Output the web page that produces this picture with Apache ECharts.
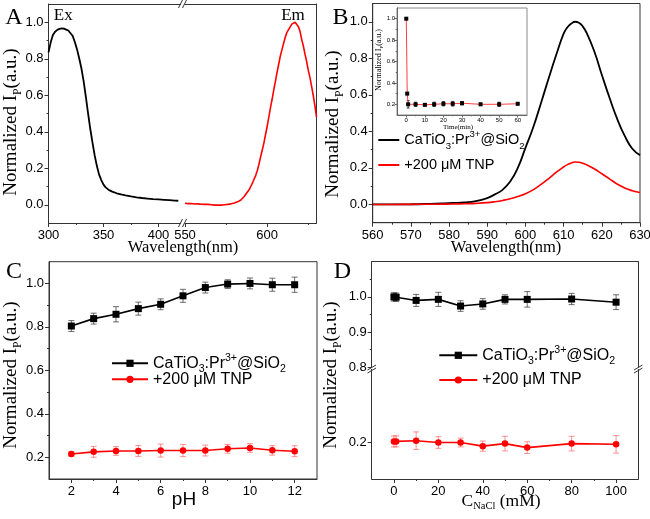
<!DOCTYPE html>
<html><head><meta charset="utf-8">
<script src="https://cdn.jsdelivr.net/npm/echarts@6/dist/echarts.min.js"></script>
<style>html,body{margin:0;padding:0;background:#fff}#c{width:650px;height:519px}</style>
</head><body><div id="c"></div>
<script>
// ---------------- DATA ----------------
// Panel A: excitation (black) and emission (red)
const exWave = [300,302,304,306,308,310,312,314,316,318,320,322,324,326,328,330,332,334,336,338,340,342,344,346,348,350,352,355,358,362,366,370,375,380,385,390,395,400,405,410,415,418];
const exVal  = [0.835,0.89,0.93,0.948,0.958,0.964,0.967,0.965,0.96,0.955,0.94,0.925,0.89,0.85,0.80,0.745,0.675,0.59,0.50,0.415,0.34,0.27,0.212,0.165,0.135,0.11,0.095,0.08,0.072,0.063,0.057,0.052,0.046,0.041,0.037,0.034,0.031,0.029,0.027,0.025,0.023,0.022];
const emWave = [550,552,554,556,558,560,562,564,566,568,570,572,574,576,578,580,581,582,583,584,585,586,587,588,589,590,591,592,593,594,595,596,597,598,599,600,601,602,603,604,605,606,607,608,609,610,611,612,613,614,615,616,617,618,619,620,621,622,623,624,625,626,627,628,629,630];
const emVal  = [0.008,0.006,0.007,0.004,0.005,0.003,0.002,0.002,0.000,-0.002,-0.001,-0.002,0.000,0.002,0.005,0.010,0.012,0.016,0.019,0.026,0.034,0.045,0.055,0.070,0.082,0.100,0.118,0.140,0.160,0.188,0.222,0.262,0.300,0.338,0.385,0.430,0.480,0.532,0.578,0.630,0.676,0.725,0.770,0.815,0.850,0.885,0.918,0.945,0.955,0.975,0.990,0.985,1.000,0.992,0.975,0.950,0.905,0.870,0.825,0.785,0.738,0.698,0.650,0.600,0.545,0.480];
// Panel B: emission spectra
const bWave  = [560,565,570,575,578,581,584,587,590,592,594,596,598,600,602,604,606,608,610,611,612,613,614,615,616,618,620,622,624,626,628,630];
const bBlack = [0.0,0.0005,0.001,0.003,0.005,0.008,0.011,0.018,0.035,0.055,0.08,0.125,0.2,0.31,0.42,0.55,0.685,0.815,0.935,0.97,0.99,1.0,0.995,0.975,0.94,0.84,0.71,0.585,0.47,0.375,0.305,0.27];
const bRed   = [0.0,0.0,0.0005,0.001,0.0015,0.002,0.004,0.006,0.01,0.015,0.022,0.031,0.043,0.058,0.08,0.108,0.14,0.175,0.205,0.218,0.227,0.232,0.231,0.226,0.217,0.195,0.168,0.14,0.112,0.09,0.075,0.065];
// Panel B inset: time response
const insetTime = [0,0.5,1,5,10,15,20,25,30,40,50,60];
const insetVal  = [1.0,0.3,0.2,0.2,0.195,0.2,0.205,0.205,0.21,0.2,0.2,0.205];
const insetErr  = [0.005,0.01,0.035,0.02,0.01,0.02,0.02,0.022,0.015,0.01,0.02,0.01];
// Panel C: pH
const phC       = [2,3,4,5,6,7,8,9,10,11,12];
const cBlack    = [0.804,0.838,0.858,0.884,0.904,0.943,0.981,0.997,1.0,0.994,0.994];
const cBlackErr = [0.025,0.025,0.035,0.03,0.025,0.03,0.025,0.02,0.025,0.03,0.035];
const cRed      = [0.215,0.225,0.229,0.229,0.231,0.231,0.231,0.239,0.243,0.232,0.228];
const cRedErr   = [0.01,0.025,0.02,0.025,0.03,0.028,0.025,0.02,0.02,0.022,0.025];
// Panel D: NaCl concentration
const naclD     = [0,1,10,20,30,40,50,60,80,100];
const dBlack    = [1.0,0.999,0.99,0.993,0.974,0.98,0.993,0.993,0.994,0.985];
const dBlackErr = [0.012,0.012,0.017,0.02,0.015,0.015,0.013,0.022,0.016,0.021];
const dRed      = [0.203,0.203,0.205,0.2,0.2,0.19,0.197,0.186,0.197,0.195];
const dRedErr   = [0.015,0.015,0.024,0.016,0.012,0.014,0.02,0.016,0.02,0.024];
// Tick values
const tickA_xL = [300,350,400],  minA_xL = [325,375];
const tickA_xR = [550,600],      minA_xR = [575,625];
const tickY01  = [0,0.2,0.4,0.6,0.8,1.0], minY01 = [0.1,0.3,0.5,0.7,0.9];
const tickB_x  = [560,570,580,590,600,610,620,630], minB_x = [565,575,585,595,605,615,625];
const tickI_x  = [0,10,20,30,40,50,60], minI_x = [5,15,25,35,45,55];
const tickI_y  = [0.2,0.4,0.6,0.8,1.0], minI_y = [0.3,0.5,0.7,0.9];
const tickC_x  = [2,4,6,8,10,12], minC_x = [3,5,7,9,11];
const tickC_y  = [0.2,0.4,0.6,0.8,1.0], minC_y = [0.3,0.5,0.7,0.9];
const tickD_x  = [0,20,40,60,80,100], minD_x = [10,30,50,70,90];
const tickD_yU = [0.8,0.9,1.0], minD_yU = [0.85,0.95,1.05];
const tickD_yL = [0.2];
const labelBlack = '{b|CaTiO}{sub|3}{b|:Pr}{sup|3+}{b|@SiO}{sub|2}';
const labelRed   = '{b|+200 μM TNP}';

// ---------------- BUILD ----------------
const SANS = 'Liberation Sans', SERIF = 'Liberation Serif';
const FRAME = '#333';
const grid = [], xAxis = [], yAxis = [], series = [], legend = [];
const fmt1 = v => Number(v).toFixed(1);
const fmt0 = v => String(Math.round(v));

function addGrid(o){ grid.push(Object.assign({outerBoundsMode:'none', containLabel:false}, o)); return grid.length-1; }
function addAxis(arr, o){
  const tl = o.tl || 4;
  const main = {
    type:'value', gridIndex:o.g, min:o.min, max:o.max, position:o.pos, scale:false,
    axisLine:{show:true, onZero:false, lineStyle:{color:o.lc||FRAME, width:1}},
    axisTick:o.majors ? {show:true, customValues:o.majors, length:tl, inside:false, lineStyle:{color:o.lc||FRAME}} : {show:false},
    axisLabel:o.majors && o.labels!==false ? {show:true, customValues:o.majors, formatter:o.fmt, fontSize:o.fs||13, fontFamily:SANS, color:'#000', margin:o.margin||5} : {show:false},
    splitLine:{show:false}
  };
  arr.push(main); const idx = arr.length-1;
  if (o.minors) arr.push({type:'value', gridIndex:o.g, min:o.min, max:o.max, position:o.pos,
    axisLine:{show:false, onZero:false}, axisTick:{show:true, customValues:o.minors, length:tl/2, lineStyle:{color:o.lc||FRAME}},
    axisLabel:{show:false}, splitLine:{show:false}});
  return idx;
}
const pairs = (xs, ys) => xs.map((x,i)=>[x, ys[i]]);
const triples = (xs, ys, es) => xs.map((x,i)=>[x, ys[i], es[i]]);
function errSeries(xi, yi, data, color, cap){
  return {type:'custom', xAxisIndex:xi, yAxisIndex:yi, data, silent:true, z:1, clip:false,
    renderItem(params, api){
      const x=api.value(0), y=api.value(1), e=api.value(2);
      const t=api.coord([x,y+e]), b=api.coord([x,y-e]);
      const st={stroke:color, lineWidth:1};
      return {type:'group', children:[
        {type:'line', shape:{x1:t[0],y1:t[1],x2:b[0],y2:b[1]}, style:st},
        {type:'line', shape:{x1:t[0]-cap,y1:t[1],x2:t[0]+cap,y2:t[1]}, style:st},
        {type:'line', shape:{x1:b[0]-cap,y1:b[1],x2:b[0]+cap,y2:b[1]}, style:st}]};
    }};
}
function lineSeries(name, xi, yi, data, color, o){
  return Object.assign({type:'line', name, xAxisIndex:xi, yAxisIndex:yi, data, z:3,
    symbol:'none', lineStyle:{color, width:1.6}, itemStyle:{color}}, o||{});
}
function richLegend(fs){
  const sm = Math.round(fs*0.66*10)/10;
  return {
    b:{fontSize:fs, lineHeight:22, fontFamily:SANS, color:'#000'},
    sub:{fontSize:sm, lineHeight:sm, verticalAlign:'bottom', fontFamily:SANS, color:'#000'},
    sup:{fontSize:sm, lineHeight:sm, verticalAlign:'top', fontFamily:SANS, color:'#000'}
  };
}
const LBL = {B1:labelBlack, B2:labelRed, C1:labelBlack, C2:labelRed, D1:labelBlack, D2:labelRed};
function addLegend(name, left, top, iw, ih, fs, icon){
  const d = icon ? {name, icon} : {name};
  legend.push({left, top, orient:'vertical', padding:0, itemWidth:iw, itemHeight:ih, itemGap:0,
    data:[d], selectedMode:false, formatter:n=>LBL[n],
    textStyle:{fontFamily:SANS, fontSize:fs, color:'#000', lineHeight:22, rich:richLegend(fs)}});
}

// Panel A (broken x axis: two grids)
const gAL = addGrid({left:48.5, top:4, width:132, height:219});
const gAR = addGrid({left:185, top:4, width:131.5, height:219});
const xAL = addAxis(xAxis, {g:gAL, min:300, max:420, pos:'bottom', majors:tickA_xL, minors:minA_xL, fmt:fmt0, margin:6});
addAxis(xAxis, {g:gAL, min:300, max:420, pos:'top'});
const yAL = addAxis(yAxis, {g:gAL, min:-0.1, max:1.1, pos:'left', majors:tickY01, minors:minY01, fmt:fmt1});
const xAR = addAxis(xAxis, {g:gAR, min:550, max:630, pos:'bottom', majors:tickA_xR, minors:minA_xR, fmt:fmt0, margin:6});
addAxis(xAxis, {g:gAR, min:550, max:630, pos:'top'});
const yAR = addAxis(yAxis, {g:gAR, min:-0.1, max:1.1, pos:'right'});
series.push(lineSeries('Ex', xAL, yAL, pairs(exWave, exVal), '#000', {lineStyle:{color:'#000', width:1.8}}));
series.push(lineSeries('Em', xAR, yAR, pairs(emWave, emVal), '#ff0000', {lineStyle:{color:'#ff0000', width:1.6}}));

// Panel B
const gB = addGrid({left:372.7, top:3.5, width:267.3, height:219.2, show:true, borderColor:FRAME, borderWidth:1});
const xB = addAxis(xAxis, {g:gB, min:560, max:630, pos:'bottom', majors:tickB_x, minors:minB_x, fmt:fmt0, margin:6});
const yB = addAxis(yAxis, {g:gB, min:-0.1, max:1.1, pos:'left', majors:tickY01, minors:minY01, fmt:fmt1});
series.push(lineSeries('B1', xB, yB, pairs(bWave, bBlack), '#000', {smooth:true, lineStyle:{color:'#000', width:1.8}}));
series.push(lineSeries('B2', xB, yB, pairs(bWave, bRed), '#ff0000', {smooth:true, lineStyle:{color:'#ff0000', width:1.6}}));
addLegend('B1', 378.3, 129, 21, 2, 14.5, 'rect');
addLegend('B2', 378.3, 154, 21, 2, 14.5, 'rect');

// Inset
const gI = addGrid({left:397, top:8, width:130, height:107, show:true, borderColor:'#888', borderWidth:1});
const xI = addAxis(xAxis, {g:gI, min:-5, max:65, pos:'bottom', majors:tickI_x, minors:minI_x, fmt:fmt0, fs:6, tl:2.5, margin:2.5, lc:'#666'});
const yI = addAxis(yAxis, {g:gI, min:0.1, max:1.1, pos:'left', majors:tickI_y, minors:minI_y, fmt:fmt1, fs:6, tl:2.5, margin:2, lc:'#666'});
series.push(errSeries(xI, yI, triples(insetTime, insetVal, insetErr), 'rgba(0,0,0,0.7)', 1.5));
series.push(lineSeries('inset', xI, yI, pairs(insetTime, insetVal), '#000',
  {symbol:'rect', symbolSize:4, showSymbol:true, lineStyle:{color:'#ff4040', width:1}, itemStyle:{color:'#000'}}));

// Panel C
const gC = addGrid({left:49, top:261.7, width:268, height:217.3, show:true, borderColor:FRAME, borderWidth:1});
const xC = addAxis(xAxis, {g:gC, min:1, max:13, pos:'bottom', majors:tickC_x, minors:minC_x, fmt:fmt0, margin:6});
const yC = addAxis(yAxis, {g:gC, min:0.1, max:1.1, pos:'left', majors:tickC_y, minors:minC_y, fmt:fmt1});
series.push(errSeries(xC, yC, triples(phC, cBlack, cBlackErr), 'rgba(60,60,60,0.75)', 3));
series.push(errSeries(xC, yC, triples(phC, cRed, cRedErr), 'rgba(255,60,60,0.55)', 3));
series.push(lineSeries('C1', xC, yC, pairs(phC, cBlack), '#000', {symbol:'rect', symbolSize:7, showSymbol:true}));
series.push(lineSeries('C2', xC, yC, pairs(phC, cRed), '#ff0000', {symbol:'circle', symbolSize:6.5, showSymbol:true}));
addLegend('C1', 111, 352.3, 36, 9, 16);
addLegend('C2', 111, 368.3, 36, 9, 16);

// Panel D (broken y axis: two grids)
const gDU = addGrid({left:371.7, top:261.7, width:266.6, height:105.6});
const gDL = addGrid({left:371.7, top:369.5, width:266.6, height:109.5});
const xDU = addAxis(xAxis, {g:gDU, min:-10, max:110, pos:'top'});
const yDU = addAxis(yAxis, {g:gDU, min:0.8, max:1.1, pos:'left', majors:tickD_yU, minors:minD_yU, fmt:fmt1});
addAxis(yAxis, {g:gDU, min:0.8, max:1.1, pos:'right'});
const xDL = addAxis(xAxis, {g:gDL, min:-10, max:110, pos:'bottom', majors:tickD_x, minors:minD_x, fmt:fmt0, margin:6});
const yDL = addAxis(yAxis, {g:gDL, min:0.1, max:0.4, pos:'left', majors:tickD_yL, fmt:fmt1});
addAxis(yAxis, {g:gDL, min:0.1, max:0.4, pos:'right'});
series.push(errSeries(xDU, yDU, triples(naclD, dBlack, dBlackErr), 'rgba(60,60,60,0.75)', 3));
series.push(errSeries(xDL, yDL, triples(naclD, dRed, dRedErr), 'rgba(255,60,60,0.55)', 3));
series.push(lineSeries('D1', xDU, yDU, pairs(naclD, dBlack), '#000', {symbol:'rect', symbolSize:7, showSymbol:true}));
series.push(lineSeries('D2', xDL, yDL, pairs(naclD, dRed), '#ff0000', {symbol:'circle', symbolSize:6.5, showSymbol:true}));
addLegend('D1', 438.3, 344.3, 38, 9, 16);
addLegend('D2', 438.3, 369, 38, 9, 16);

// ---------------- TEXT / DECORATION ----------------
const subRich = (fs) => ({sub:{fontSize:fs, lineHeight:fs, verticalAlign:'bottom', fontFamily:SERIF, fill:'#000'}});
function txt(x, y, text, fs, fam, extra){
  return Object.assign({type:'text', x, y, z:100, style:Object.assign({text, fontSize:fs, fontFamily:fam, fill:'#000', align:'center', verticalAlign:'middle'}, (extra&&extra.style)||{})}, extra&&extra.rotation!==undefined?{rotation:extra.rotation}:{});
}
function ytitle(x, y, fs){
  return txt(x, y, 'Normalized I{sub|P}(a.u.)', fs, SERIF, {rotation:Math.PI/2, style:{lineHeight:fs*1.35, rich:subRich(fs*0.62)}});
}
function slash(x1,y1,x2,y2){ return {type:'line', z:100, shape:{x1,y1,x2,y2}, style:{stroke:FRAME, lineWidth:1}}; }
const graphic = [
  txt(14, 17.5, 'A', 24, SERIF), txt(340.5, 17.5, 'B', 24, SERIF),
  txt(14, 271.5, 'C', 24, SERIF), txt(342.5, 271.5, 'D', 24, SERIF),
  txt(63.3, 16, 'Ex', 17, SERIF), txt(293, 16, 'Em', 17, SERIF),
  txt(183, 248, 'Wavelength(nm)', 16.5, SERIF), txt(506, 247.2, 'Wavelength(nm)', 16.5, SERIF),
  txt(184, 500, 'pH', 19, SANS),
  txt(501, 501, 'C{sub|NaCl} (mM)', 17.5, SERIF, {style:{lineHeight:22, rich:subRich(10.5)}}),
  ytitle(11, 122, 19), ytitle(333, 124, 19), ytitle(11, 375, 19), ytitle(331, 375, 19),
  ytitle(379, 60, 8),
  txt(458, 127, 'Time(min)', 7, SERIF),
  // axis break marks
  slash(178.5,227,182.5,219), slash(182.5,227,186.5,219),
  slash(178.5,8,182.5,0), slash(182.5,8,186.5,0),
  slash(367.5,370,376,365), slash(367.5,373,376,368),
  slash(634,370,642.5,365), slash(634,373,642.5,368)
];

const chart = echarts.init(document.getElementById('c'), null, {renderer:'canvas'});
chart.setOption({animation:false, backgroundColor:'#fff', grid, xAxis, yAxis, series, legend, graphic});
</script></body></html>
